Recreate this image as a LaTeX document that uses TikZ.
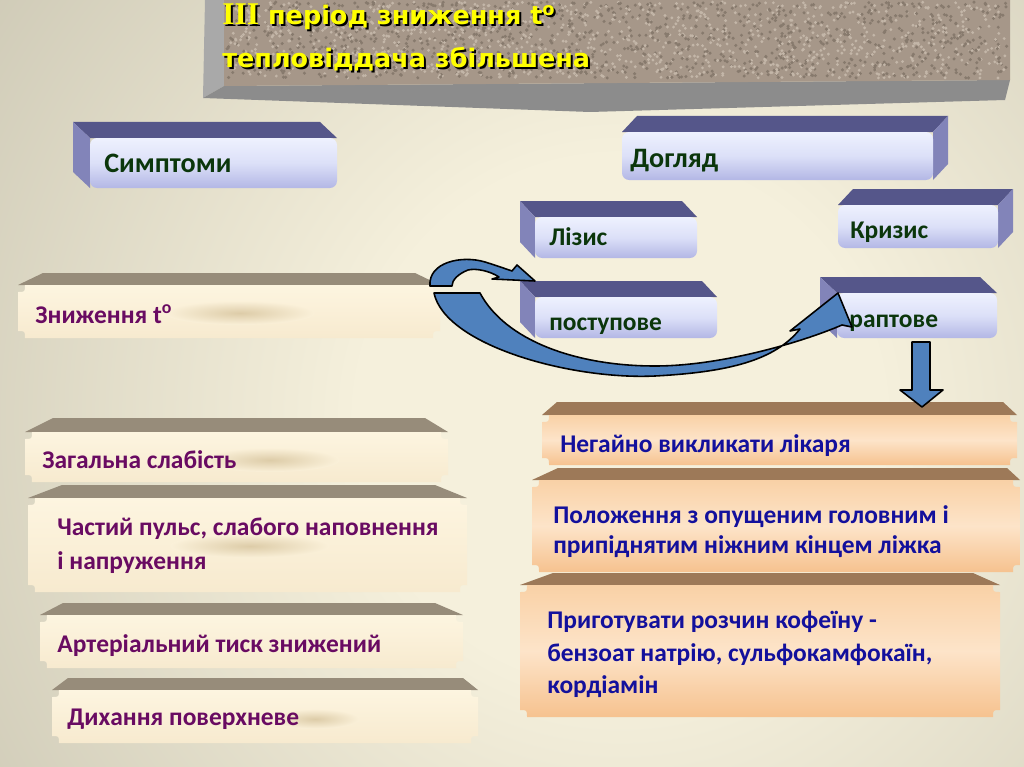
\documentclass[tikz,border=0pt]{standalone}
\usepackage{fontspec}
\setmainfont{Carlito}
\newfontfamily\titlefont{DejaVu Sans}
\newfontfamily\romanfont{Liberation Serif}
\usetikzlibrary{calc}

\definecolor{bglight}{HTML}{F5F0DC}
\definecolor{bgmid}{HTML}{ABA794}
\definecolor{bgdark}{HTML}{8E8B79}
\definecolor{stone}{HTML}{A69789}
\definecolor{stonedark}{HTML}{877A6D}
\definecolor{stonelight}{HTML}{C3B6A8}
\definecolor{stoneside}{HTML}{A9A9A9}
\definecolor{stonebottom}{HTML}{8C8C8C}
\definecolor{prismtop}{HTML}{55568A}
\definecolor{prismside}{HTML}{8284B9}
\definecolor{prismhi}{HTML}{EEF1FE}
\definecolor{prismmid}{HTML}{DCE0F8}
\definecolor{prismlo}{HTML}{B3B7E5}
\definecolor{creamtop}{HTML}{978C7A}
\definecolor{creamhi}{HTML}{FDF5E0}
\definecolor{creamlo}{HTML}{F7EACF}
\definecolor{creamsmear}{HTML}{DDCCA8}
\definecolor{peachtop}{HTML}{9D7958}
\definecolor{peachhi}{HTML}{F9D1A6}
\definecolor{peachmid}{HTML}{FDE4C9}
\definecolor{peachlo}{HTML}{F6C28F}
\definecolor{arrowfill}{HTML}{4F81BD}
\definecolor{greentxt}{HTML}{0B360B}
\definecolor{purpletxt}{HTML}{690B62}
\definecolor{bluetxt}{HTML}{13109C}
\definecolor{titleyellow}{HTML}{FFFF00}

\pgfdeclareradialshading{bgshade}{\pgfpoint{0bp}{0bp}}{%
  color(0bp)=(bglight); color(8bp)=(bglight); color(38bp)=(bgmid); color(50bp)=(bgdark)}

\tikzset{
  prism top/.style={fill=prismtop},
  prism side/.style={fill=prismside},
  prism front/.style={top color=prismhi, bottom color=prismlo, middle color=prismmid},
  cream top/.style={fill=creamtop},
  cream front/.style={top color=creamhi, bottom color=creamlo},
  peach top/.style={fill=peachtop},
  peach front/.style={top color=peachhi, bottom color=peachlo, middle color=peachmid},
  smear/.style={inner color=creamsmear, outer color=creamhi!60!creamlo},
  arrowshape/.style={fill=arrowfill, draw=black, line width=0.9pt, line join=round},
  boxtext/.style={anchor=base west, inner sep=0pt, font=\fontsize{14.5}{17}\selectfont\bfseries},
  prismtext/.style={boxtext, text=greentxt},
  bigprismtext/.style={prismtext, font=\fontsize{16}{19}\selectfont\bfseries},
  symptext/.style={boxtext, text=purpletxt},
  caretext/.style={boxtext, text=bluetxt},
  titletext/.style={anchor=base west, inner sep=0pt, font=\titlefont\fontsize{14.5}{17}\selectfont\bfseries},
}

% 3d bar: front x1 y1 x2 y2, shift of the back face, x of the visible side
\newcommand{\prismbox}[6]{%
  \fill[prism top] (#1,#2) -- ({#1+(#5)},{#2-16}) -- ({#3+(#5)},{#2-16}) -- (#3,#2) -- cycle;
  \fill[prism side] (#6,#2) -- ({#6+(#5)},{#2-16}) -- ({#6+(#5)},{#4-16}) -- (#6,#4) -- cycle;
  \shade[prism front, rounded corners=4] (#1,#2) rectangle (#3,#4);
}

% plank: kind, front x1 y1 x2 y2, top edge x1 x2 y
\newcommand{\ticketbox}[8]{%
  \fill[#1 top] (#2,#3) -- (#6,#8) -- (#7,#8) -- (#4,#3) -- cycle;
  \shade[#1 front] ({#2+7},#3) -- ({#4-7},#3) .. controls ({#4-7},{#3+7}) .. (#4,{#3+7})
    -- (#4,{#5-7}) .. controls ({#4-7},{#5-7}) .. ({#4-7},#5)
    -- ({#2+7},#5) .. controls ({#2+7},{#5-7}) .. (#2,{#5-7})
    -- (#2,{#3+7}) .. controls ({#2+7},{#3+7}) .. ({#2+7},#3) -- cycle;
}

\newcommand{\titleone}{{\romanfont\fontsize{18}{20}\selectfont III} період зниження t\textsuperscript{o}}

\begin{document}
\begin{tikzpicture}[x=0.02cm, y=-0.02cm]
\useasboundingbox (0,0) rectangle (1024,767);

% background
\begin{scope}
  \clip (0,0) rectangle (1024,767);
  \shade[shading=bgshade] (620,420) circle (820);
\end{scope}

% title stone
\fill[stoneside] (205,0) -- (224,0) -- (224,86) -- (203,98) -- cycle;
\fill[stonebottom] (203,98) -- (224,86) -- (1010,80) -- (1005,100) -- (590,112) -- cycle;
\fill[stone] (224,0) -- (1010,0) -- (1010,80) -- (224,86) -- cycle;
\pgfmathsetseed{7}
\foreach \i in {1,...,1100}{
  \fill[stonedark] ({227+780*rnd},{2+76*rnd}) circle (1.7);
  \fill[stonelight] ({227+780*rnd},{2+76*rnd}) circle (1.6);
}
\node[titletext, text=black] (title1s) at (224,27) {\titleone};
\node[titletext, text=titleyellow] (title1) at (222,25) {\titleone};
\node[titletext, text=black] (title2s) at (224,70) {тепловіддача збільшена};
\node[titletext, text=titleyellow] (title2) at (222,68) {тепловіддача збільшена};

% blue bars
\prismbox{90}{138}{337}{188}{-17}{90}
\node[bigprismtext] (sympt) at (104,173) {Симптоми};
\prismbox{622}{132}{933}{180}{15}{933}
\node[bigprismtext] (care) at (630,167) {Догляд};
\prismbox{535}{217}{697}{258}{-15}{535}
\node[prismtext] (lysis) at (549,245) {Лізис};
\prismbox{535}{297}{717}{338}{-15}{535}
\node[prismtext] (gradual) at (549,330) {поступове};
\prismbox{838}{205}{998}{248}{15}{998}
\node[prismtext] (crisis) at (850,238) {Кризис};
\prismbox{837}{293}{997}{338}{-17}{837}
\node[prismtext] (sudden) at (849,327) {раптове};

% symptoms
\ticketbox{cream}{18}{285}{440}{338}{43}{415}{273}
\shade[smear] (240,313) ellipse (75 and 12);
\node[symptext] (fall) at (35,323) {Зниження t\textsuperscript{o}};
\ticketbox{cream}{25}{432}{448}{482}{53}{425}{418}
\shade[smear] (270,460) ellipse (70 and 12);
\node[symptext] (weak) at (42,468) {Загальна слабість};
\ticketbox{cream}{28}{498}{467}{592}{62}{435}{485}
\shade[smear] (250,546) ellipse (80 and 12);
\node[symptext] (pulse1) at (57,535) {Частий пульс, слабого наповнення};
\node[symptext] (pulse2) at (57,569) {і напруження};
\ticketbox{cream}{40}{615}{463}{668}{63}{435}{603}
\node[symptext] (press) at (57,652) {Артеріальний тиск знижений};
\ticketbox{cream}{52}{690}{478}{743}{68}{463}{678}
\shade[smear] (315,719) ellipse (45 and 10);
\node[symptext] (breath) at (67,725) {Дихання поверхневе};

% care actions
\ticketbox{peach}{542}{415}{1017}{465}{557}{1003}{402}
\node[caretext] (doctor) at (560,452) {Негайно викликати лікаря};
\ticketbox{peach}{532}{480}{1020}{572}{558}{1007}{468}
\node[caretext] (pos1) at (553,523) {Положення з опущеним головним і};
\node[caretext] (pos2) at (553,553) {припіднятим ніжним кінцем ліжка};
\ticketbox{peach}{520}{585}{1000}{717}{553}{973}{573}
\node[caretext] (drug1) at (547,628) {Приготувати розчин кофеїну -};
\node[caretext] (drug2) at (547,661) {бензоат натрію, сульфокамфокаїн,};
\node[caretext] (drug3) at (547,693) {кордіамін};

% arrows
\filldraw[arrowshape] (430,286) .. controls (428,262) and (462,255) .. (485,262)
  .. controls (498,266) and (506,269) .. (512,271) -- (517,265) -- (535,281) -- (492,279) -- (499,277)
  .. controls (490,271) and (476,268) .. (468,270) .. controls (458,274) and (452,280) .. (452,286) -- cycle;
\filldraw[arrowshape] (434,293) .. controls (445,345) and (570,380) .. (655,376)
  .. controls (730,372) and (775,360) .. (800,329) -- (790,331) -- (838,293) -- (852,327) -- (842,325)
  .. controls (800,343) and (720,366) .. (655,366) .. controls (575,366) and (505,340) .. (480,293) -- cycle;
\filldraw[arrowshape] (912,342) -- (930,342) -- (930,390) -- (943,390) -- (922,407) -- (900,390) -- (912,390) -- cycle;

\end{tikzpicture}
\end{document}
